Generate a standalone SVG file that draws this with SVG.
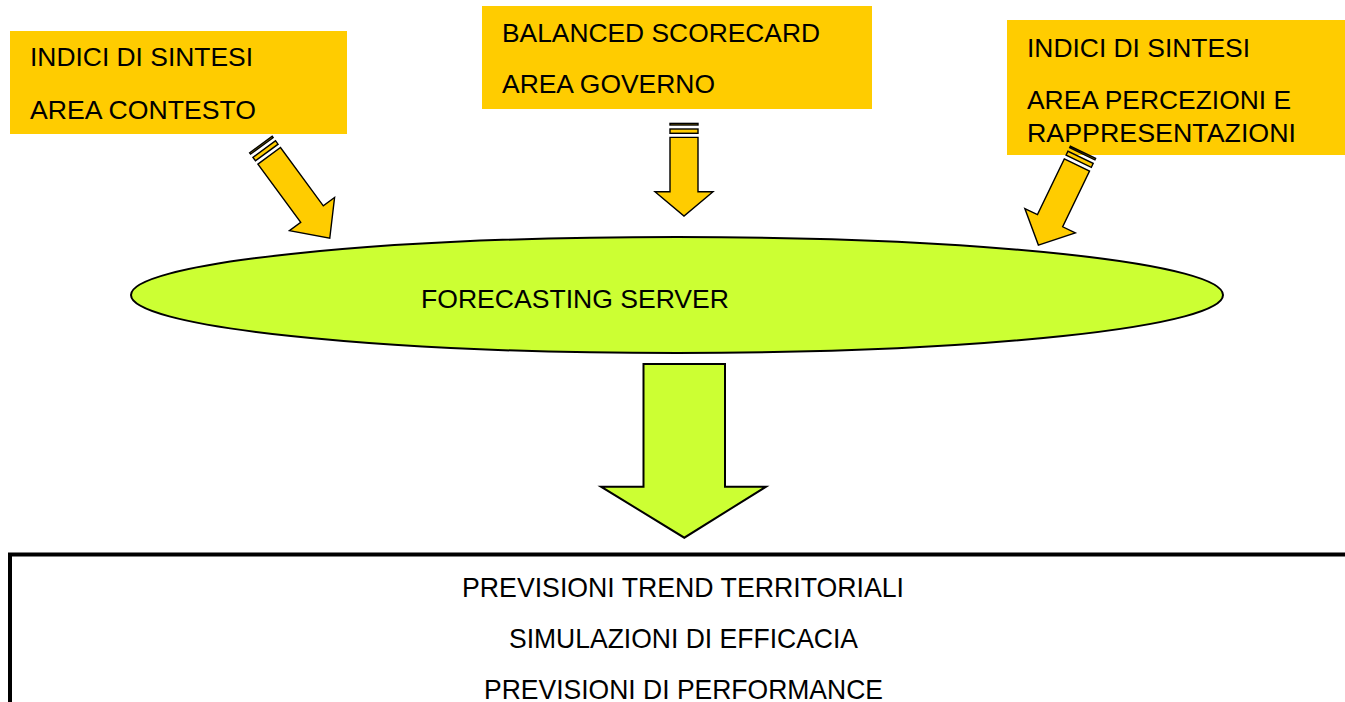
<svg xmlns="http://www.w3.org/2000/svg" width="1345" height="702" viewBox="0 0 1345 702">
<style>
.box{fill:#FFCC00;stroke:none}
.t{font-family:"Liberation Sans",Arial,sans-serif;font-size:25px;fill:#000}
.b{font-family:"Liberation Sans",Arial,sans-serif;font-size:28px;fill:#000}
.arr{fill:#FFCC00;stroke:#000;stroke-width:1.4;stroke-linejoin:miter}
.big{fill:#CCFF33;stroke:#000;stroke-width:2}
</style>
<rect width="1345" height="702" fill="#fff"/>
<g id="box-contesto">
<rect class="box" x="10" y="31" width="337" height="103"/>
<text class="t" x="30" y="66" textLength="223" lengthAdjust="spacingAndGlyphs">INDICI DI SINTESI</text>
<text class="t" x="30" y="119" textLength="226" lengthAdjust="spacingAndGlyphs">AREA CONTESTO</text>
</g>
<g id="box-governo">
<rect class="box" x="482" y="6" width="390" height="103"/>
<text class="t" x="502" y="42" textLength="318" lengthAdjust="spacingAndGlyphs">BALANCED SCORECARD</text>
<text class="t" x="502" y="93" textLength="213" lengthAdjust="spacingAndGlyphs">AREA GOVERNO</text>
</g>
<g id="box-percezioni">
<rect class="box" x="1007" y="20" width="338" height="135"/>
<text class="t" x="1027" y="57" textLength="223" lengthAdjust="spacingAndGlyphs">INDICI DI SINTESI</text>
<text class="t" x="1027" y="109" textLength="264" lengthAdjust="spacingAndGlyphs">AREA PERCEZIONI E</text>
<text class="t" x="1027" y="142" textLength="269" lengthAdjust="spacingAndGlyphs">RAPPRESENTAZIONI</text>
</g>
<g id="forecasting-server">
<ellipse class="big" cx="677" cy="295" rx="546" ry="58"/>
<text class="t" x="421" y="308" textLength="308" lengthAdjust="spacingAndGlyphs">FORECASTING SERVER</text>
</g>
<g id="risultati">
<rect x="10" y="554.5" width="1400" height="200" fill="#fff" stroke="#000" stroke-width="4"/>
<text class="b" x="462" y="597" textLength="442" lengthAdjust="spacingAndGlyphs">PREVISIONI TREND TERRITORIALI</text>
<text class="b" x="509" y="648" textLength="349" lengthAdjust="spacingAndGlyphs">SIMULAZIONI DI EFFICACIA</text>
<text class="b" x="484" y="699" textLength="399" lengthAdjust="spacingAndGlyphs">PREVISIONI DI PERFORMANCE</text>
</g>
<g id="connectors">
<g transform="translate(260.5,144) rotate(-36.3)">
<rect class="arr" x="-14" y="0.7" width="28" height="1.6"/>
<rect class="arr" x="-14" y="6.3" width="28" height="4.3"/>
<polygon class="arr" points="-14,14.7 14,14.7 14,87 28,87 0,117 -28,87 -14,87"/>
</g>
<g transform="translate(684,122.7)">
<rect class="arr" x="-14" y="0.7" width="28" height="1.6"/>
<rect class="arr" x="-14" y="6.3" width="28" height="4.3"/>
<polygon class="arr" points="-14,14.7 14,14.7 14,69 29,69 0,93.3 -29,69 -14,69"/>
</g>
<g transform="translate(1083.3,151.7) rotate(25.7)">
<rect class="arr" x="-14" y="0.7" width="28" height="1.6"/>
<rect class="arr" x="-14" y="6.3" width="28" height="4.3"/>
<polygon class="arr" points="-14,14.7 14,14.7 14,76.6 28,76.6 0,103.6 -28,76.6 -14,76.6"/>
</g>
<polygon class="big" points="643.5,364 725,364 725,486.7 766,486.7 684.3,537.7 601,486.7 643.5,486.7"/>
</g>
</svg>
